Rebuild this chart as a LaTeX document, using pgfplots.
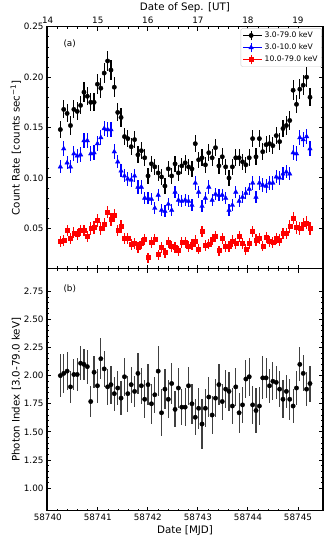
\documentclass[border=0pt]{standalone}
\usepackage{fontspec}
\setmainfont{DejaVu Sans}
\usepackage{pgfplots}
\usepackage{pgfplotstable}
\pgfplotsset{compat=1.18}

% t = MJD - 58740
\pgfplotstableread{
t all eall soft esoft hard ehard
0.252 0.148 0.0085 0.111 0.0065 0.0368 0.0055
0.319 0.168 0.009 0.129 0.0072 0.0378 0.0055
0.387 0.164 0.009 0.115 0.0065 0.0483 0.0055
0.454 0.152 0.009 0.111 0.0065 0.040 0.0055
0.522 0.168 0.009 0.124 0.0072 0.0457 0.0055
0.589 0.166 0.009 0.122 0.0072 0.044 0.0055
0.656 0.172 0.009 0.123 0.0072 0.048 0.0055
0.724 0.185 0.010 0.137 0.0072 0.048 0.0055
0.791 0.181 0.009 0.137 0.0072 0.0418 0.0055
0.859 0.175 0.009 0.124 0.0072 0.050 0.0062
0.926 0.175 0.009 0.125 0.0072 0.0507 0.0062
0.993 0.193 0.010 0.134 0.0072 0.058 0.0062
1.061 0.189 0.010 0.140 0.0072 0.050 0.0062
1.128 0.204 0.010 0.149 0.0072 0.054 0.0062
1.196 0.216 0.010 0.148 0.0072 0.066 0.0062
1.263 0.207 0.010 0.148 0.0072 0.059 0.0062
1.330 0.190 0.010 0.126 0.0072 0.063 0.0062
1.398 0.165 0.009 0.116 0.0065 0.048 0.0055
1.465 0.160 0.009 0.107 0.0065 0.052 0.0062
1.533 0.141 0.0085 0.102 0.0065 0.040 0.0055
1.600 0.139 0.0085 0.099 0.0065 0.040 0.0055
1.667 0.131 0.0085 0.098 0.0065 0.034 0.005
1.735 0.138 0.0085 0.102 0.0065 0.035 0.0055
1.802 0.123 0.0085 0.091 0.0065 0.031 0.005
1.870 0.127 0.0085 0.091 0.0065 0.035 0.0055
1.937 0.120 0.0085 0.080 0.0058 0.039 0.0055
2.004 0.102 0.0078 0.080 0.0058 0.021 0.005
2.072 0.114 0.0078 0.079 0.0058 0.036 0.0055
2.139 0.111 0.0078 0.070 0.0058 0.039 0.0055
2.207 0.105 0.0078 0.083 0.0058 0.024 0.005
2.274 0.101 0.0078 0.068 0.0058 0.031 0.005
2.341 0.092 0.0078 0.067 0.0058 0.026 0.005
2.409 0.109 0.0078 0.074 0.0058 0.036 0.0055
2.476 0.102 0.0078 0.068 0.0058 0.032 0.005
2.544 0.114 0.0078 0.086 0.0058 0.031 0.005
2.611 0.105 0.0078 0.078 0.0058 0.028 0.005
2.678 0.112 0.0078 0.077 0.0058 0.036 0.0055
2.746 0.115 0.0078 0.078 0.0058 0.036 0.0055
2.813 0.111 0.0078 0.077 0.0058 0.032 0.005
2.881 0.109 0.0078 0.073 0.0058 0.034 0.005
2.948 0.134 0.0085 0.095 0.0065 0.0375 0.0055
3.015 0.118 0.0078 0.086 0.0058 0.0295 0.005
3.083 0.120 0.0085 0.072 0.0058 0.0467 0.0055
3.150 0.113 0.0078 0.080 0.0058 0.033 0.005
3.218 0.125 0.0085 0.091 0.0065 0.0345 0.005
3.285 0.120 0.0085 0.078 0.0058 0.039 0.0055
3.352 0.130 0.0085 0.084 0.0058 0.042 0.0055
3.420 0.112 0.0078 0.083 0.0058 0.028 0.005
3.487 0.121 0.0085 0.083 0.0058 0.040 0.0055
3.555 0.111 0.0078 0.080 0.0058 0.032 0.005
3.622 0.100 0.0078 0.068 0.0058 0.032 0.005
3.689 0.111 0.0078 0.073 0.0058 0.0375 0.0055
3.757 0.120 0.0085 0.086 0.0058 0.035 0.0055
3.824 0.120 0.0085 0.077 0.0058 0.042 0.0055
3.892 0.116 0.0078 0.081 0.0058 0.035 0.0055
3.959 0.113 0.0078 0.085 0.0058 0.029 0.005
4.026 0.120 0.0085 0.089 0.0058 0.035 0.0055
4.094 0.139 0.0085 0.095 0.0065 0.0467 0.0055
4.161 0.121 0.0085 0.081 0.0058 0.0385 0.0055
4.229 0.139 0.0085 0.095 0.0065 0.040 0.0055
4.296 0.126 0.0085 0.093 0.0065 0.0325 0.005
4.363 0.133 0.0085 0.092 0.0065 0.041 0.0055
4.431 0.134 0.0085 0.095 0.0065 0.037 0.0055
4.498 0.132 0.0085 0.095 0.0065 0.036 0.0055
4.566 0.142 0.0085 0.101 0.0065 0.040 0.0055
4.633 0.136 0.0085 0.100 0.0065 0.0385 0.0055
4.700 0.149 0.0085 0.104 0.0065 0.045 0.0055
4.768 0.152 0.009 0.106 0.0065 0.045 0.0055
4.835 0.157 0.009 0.104 0.0065 0.052 0.0062
4.903 0.187 0.010 0.125 0.0072 0.0605 0.0062
4.970 0.173 0.009 0.124 0.0072 0.0507 0.0062
5.037 0.188 0.010 0.140 0.0072 0.050 0.0062
5.105 0.192 0.010 0.138 0.0072 0.054 0.0062
5.172 0.200 0.010 0.141 0.0072 0.0556 0.0062
5.240 0.180 0.009 0.129 0.0072 0.050 0.0062
}\rates

\pgfplotstableread{
t gam egam
0.252 2.00 0.19
0.319 2.02 0.17
0.387 2.04 0.17
0.454 1.90 0.14
0.522 2.01 0.14
0.589 2.01 0.15
0.656 2.11 0.15
0.724 2.10 0.14
0.791 2.08 0.15
0.859 1.77 0.14
0.926 2.03 0.14
0.993 1.91 0.15
1.061 2.15 0.18
1.128 2.06 0.16
1.196 1.90 0.16
1.263 1.92 0.17
1.330 1.84 0.15
1.398 1.89 0.15
1.465 1.80 0.15
1.533 1.99 0.17
1.600 1.84 0.16
1.667 1.92 0.16
1.735 1.86 0.14
1.802 2.02 0.18
1.870 1.91 0.16
1.937 1.79 0.17
2.004 1.92 0.18
2.072 1.75 0.18
2.139 1.83 0.16
2.207 2.04 0.22
2.274 1.67 0.21
2.341 1.88 0.18
2.409 1.79 0.17
2.476 1.93 0.18
2.544 1.70 0.16
2.611 1.89 0.18
2.678 1.72 0.16
2.746 1.72 0.17
2.813 1.91 0.17
2.881 1.75 0.18
2.948 1.63 0.16
3.015 1.71 0.18
3.083 1.57 0.22
3.150 1.71 0.17
3.218 1.81 0.18
3.285 1.65 0.17
3.352 1.80 0.17
3.420 1.92 0.18
3.487 1.77 0.16
3.555 1.88 0.17
3.622 1.86 0.17
3.689 1.73 0.16
3.757 1.90 0.17
3.824 1.67 0.18
3.892 1.74 0.16
3.959 1.97 0.17
4.026 1.99 0.17
4.094 1.74 0.17
4.161 1.69 0.20
4.229 1.73 0.17
4.296 1.98 0.19
4.363 1.98 0.18
4.431 1.91 0.15
4.498 1.95 0.17
4.566 1.94 0.15
4.633 1.88 0.16
4.700 1.79 0.17
4.768 1.86 0.15
4.835 1.79 0.18
4.903 1.73 0.15
4.970 1.89 0.15
5.037 2.10 0.15
5.105 2.02 0.16
5.172 1.88 0.15
5.240 1.93 0.16
}\gamtab

\pgfplotsset{
  panel/.style={
    scale only axis, width=276pt, height=242pt,
    xmin=-0.015, xmax=5.5,
    xtick={0,1,2,3,4,5}, minor x tick num=4, minor y tick num=4,
    tick align=inside, major tick length=4pt, minor tick length=2.2pt,
    major tick style={line width=0.9pt, black},
    minor tick style={line width=0.6pt, black},
    axis line style={line width=1.3pt},
    tick label style={font=\fontsize{8.8}{10}\selectfont},
    label style={font=\fontsize{10.3}{12}\selectfont},
  },
  errlegend/.style={legend image code/.code={
      \path (0cm,0cm) -- (0.68cm,0cm);
      \draw[##1, line width=1.2pt] (0.28cm,-0.17cm) -- (0.28cm,0.17cm);
      \draw[##1] plot coordinates {(0.28cm,0cm)};}},
}

\begin{document}
\begin{tikzpicture}
\useasboundingbox (-47pt,-28.3pt) rectangle (285pt,510.7pt);

% (a) count rates
\begin{axis}[panel, at={(0,242pt)}, anchor=south west,
  ymin=0.01, ymax=0.25,
  ytick={0.05,0.1,0.15,0.2,0.25}, yticklabels={0.05,0.10,0.15,0.20,0.25},
  xticklabel pos=upper, xticklabels={14,15,16,17,18,19},
  xlabel={Date of Sep. [UT]},
  xlabel style={at={(axis description cs:0.5,1)}, anchor=base, yshift=15.7pt},
  ylabel={Count Rate [counts sec\textsuperscript{−1}]},
  ylabel style={at={(axis description cs:-0.0996,0.5)}, anchor=base},
  errlegend, legend cell align=left,
  legend style={at={(axis description cs:0.996,0.994)}, anchor=north east,
    draw=black!20, rounded corners=1.5pt, fill=white,
    font=\fontsize{7.6}{8.5}\selectfont, inner xsep=2pt, inner ysep=1.5pt, row sep=0.8pt},
]
\addplot[only marks, mark=*, mark size=2.2pt, black,
  error bars/.cd, y dir=both, y explicit, error mark=none,
  error bar style={line width=1.2pt, black}]
  table[x=t, y=all, y error=eall] {\rates};
\addlegendentry{3.0-79.0 keV}
\addplot[only marks, mark=triangle*, mark size=2.6pt, blue,
  error bars/.cd, y dir=both, y explicit, error mark=none,
  error bar style={line width=1.2pt, blue}]
  table[x=t, y=soft, y error=esoft] {\rates};
\addlegendentry{3.0-10.0 keV}
\addplot[only marks, mark=square*, mark size=2pt, red,
  error bars/.cd, y dir=both, y explicit, error mark=none,
  error bar style={line width=1.2pt, red}]
  table[x=t, y=hard, y error=ehard] {\rates};
\addlegendentry{10.0-79.0 keV}
\node[anchor=base west, font=\fontsize{8.8}{10}\selectfont] at (axis description cs:0.047,0.917) {(a)};
\end{axis}

% (b) photon index
\begin{axis}[panel, at={(0,0)}, anchor=south west,
  ymin=0.8, ymax=2.95,
  ytick={1,1.25,1.5,1.75,2,2.25,2.5,2.75},
  yticklabels={1.00,1.25,1.50,1.75,2.00,2.25,2.50,2.75},
  xticklabels={58740,58741,58742,58743,58744,58745},
  xlabel={Date [MJD]},
  xlabel style={at={(axis description cs:0.5,0)}, anchor=base, yshift=-22.6pt},
  ylabel={Photon Index [3.0-79.0 keV]},
  ylabel style={at={(axis description cs:-0.0996,0.5)}, anchor=base},
]
\addplot[only marks, mark=*, mark size=2.2pt, black,
  error bars/.cd, y dir=both, y explicit, error mark=none,
  error bar style={line width=1.2pt, black!75}]
  table[x=t, y=gam, y error=egam] {\gamtab};
\node[anchor=base west, font=\fontsize{8.8}{10}\selectfont] at (axis description cs:0.047,0.905) {(b)};
\end{axis}
\end{tikzpicture}
\end{document}
